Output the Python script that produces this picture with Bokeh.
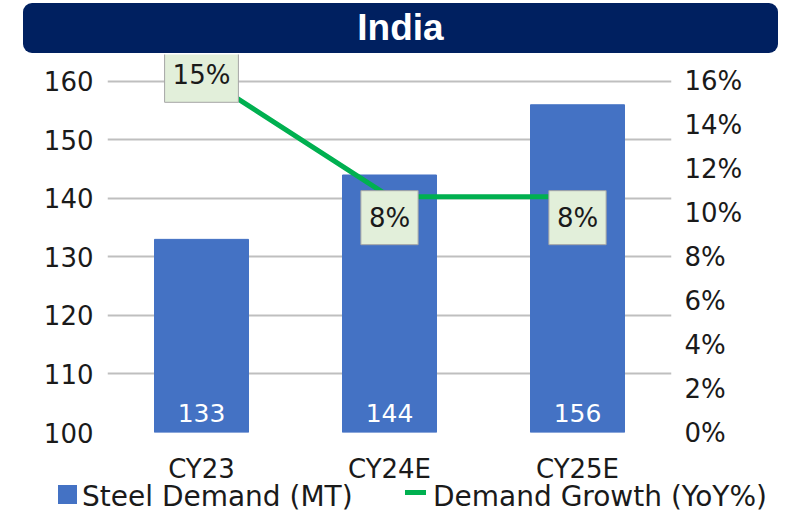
from bokeh.plotting import figure
from bokeh.models import (Range1d, LinearAxis, FactorRange, FixedTicker, Div,
                          PrintfTickFormatter, ColumnDataSource)
from bokeh.layouts import column
from bokeh.core.properties import value
from bokeh.embed import file_html
from bokeh.resources import INLINE

# ---- data ----
title_text = "India"
categories = ["CY23", "CY24E", "CY25E"]
steel_demand = [133, 144, 156]          # MT
demand_growth = [15, 8, 8]              # YoY %
left_ticks = [100, 110, 120, 130, 140, 150, 160]
right_ticks = [0, 2, 4, 6, 8, 10, 12, 14, 16]
series_names = ["Steel Demand (MT)", "Demand Growth (YoY%)"]

FONT = "DejaVu Sans"
TXT = "#1a1a1a"
BLUE = "#4472C4"
GREEN = "#00B050"

# ---- banner ----
banner = Div(text=title_text, width=755, height=50, margin=(3, 0, 0, 23),
             styles={"background-color": "#002060", "color": "white",
                     "border-radius": "9px", "font-family": "Liberation Sans, Arial",
                     "font-weight": "bold", "font-size": "37px",
                     "text-align": "center", "line-height": "50px"})

# ---- main chart ----
src = ColumnDataSource(dict(cat=categories, demand=steel_demand,
                            growth=demand_growth,
                            dlabel=[str(v) for v in steel_demand],
                            glabel=[f"{v:d}%" for v in demand_growth],
                            base=[left_ticks[0]] * len(categories),
                            goff=[0, 21, 21]))

p = figure(x_range=FactorRange(*categories), y_range=Range1d(100, 164.59),
           width=781, height=433, output_backend="svg", toolbar_location=None,
           min_border_left=107, min_border_right=110, min_border_top=1,
           min_border_bottom=52)
p.extra_y_ranges = {"pct": Range1d(0, 17.224), "growth": Range1d(-5.60, 16.20)}
p.outline_line_color = None
p.xgrid.visible = False
p.ygrid.ticker = FixedTicker(ticks=left_ticks)
p.ygrid.grid_line_color = "#BFBFBF"
p.ygrid.grid_line_width = 2

bars = p.vbar(x="cat", top="demand", bottom="base", width=0.5, source=src,
              fill_color=BLUE, line_color=BLUE)
line = p.line(x="cat", y="growth", y_range_name="growth", source=src,
              line_color=GREEN, line_width=5)

p.text(x="cat", y="base", text="dlabel", source=src, text_color="white",
       text_font=value(FONT), text_font_size=value("25px"), text_align="center",
       text_baseline="middle", y_offset=-20)

p.text(x="cat", y="growth", text="glabel", source=src, y_range_name="growth",
       text_color=TXT, text_font=value(FONT), text_font_size=value("26px"),
       text_align="center", text_baseline="middle", y_offset="goff",
       background_fill_color="#E2EFDA", border_line_color="#A5A5A5",
       border_line_width=1, padding=dict(x=8, y=12))

yl = p.yaxis[0]
yl.ticker = FixedTicker(ticks=left_ticks)
yr = LinearAxis(y_range_name="pct", ticker=FixedTicker(ticks=right_ticks),
                formatter=PrintfTickFormatter(format="%d%%"))
p.add_layout(yr, "right")

for ax in [yl, yr, p.xaxis[0]]:
    ax.axis_line_color = None
    ax.major_tick_line_color = None
    ax.minor_tick_line_color = None
    ax.major_tick_out = 0
    ax.major_tick_in = 0
    ax.minor_tick_out = 0
    ax.minor_tick_in = 0
    ax.major_label_text_font = FONT
    ax.major_label_text_font_size = "26px"
    ax.major_label_text_color = TXT
yl.major_label_standoff = 14
yr.major_label_standoff = 13
p.xaxis[0].major_label_standoff = 21

# ---- legend (HTML, below the chart) ----
legend_html = (
    f'<div style="position:relative;width:781px;height:35px;'
    f'font-family:\'{FONT}\';font-size:28px;color:{TXT};white-space:nowrap">'
    f'<span style="position:absolute;left:58px;top:5px;width:19px;height:19px;'
    f'background:{BLUE}"></span>'
    f'<span style="position:absolute;left:82px;top:0;line-height:33px">{series_names[0]}</span>'
    f'<span style="position:absolute;left:405px;top:10px;width:21px;height:5px;'
    f'background:{GREEN}"></span>'
    f'<span style="position:absolute;left:433px;top:0;line-height:33px">{series_names[1]}</span>'
    f'</div>'
)
legend = Div(text=legend_html, width=781, height=35, margin=(-6, 0, 0, 0))

layout = column(banner, p, legend, spacing=0)
open("out.html", "w").write(file_html(layout, INLINE))
